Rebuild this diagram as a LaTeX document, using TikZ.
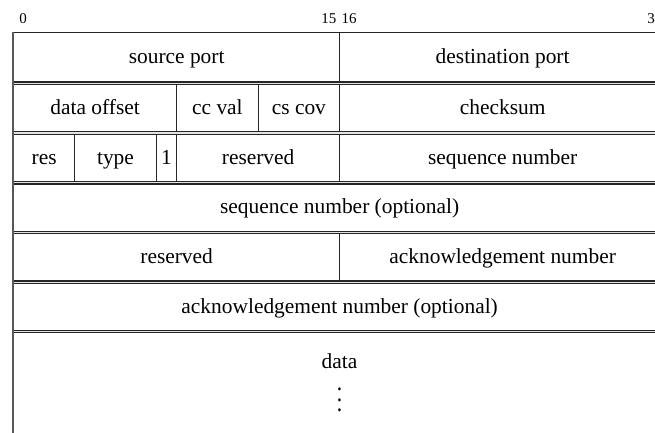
\documentclass[tikz,border=0pt]{standalone}
\usepackage{fontspec}
\setmainfont{Liberation Serif}

% one bit is 20.375 units wide, the bit field starts at x = 13; one unit is 0.467pt
\newcommand\bitx[1]{(13+20.375*(#1))}
% row k runs from \rowtop{k} to \rowbot{k}
\newcommand\rowtop[1]{(83.75+49.75*((#1)-1))}
\newcommand\rowbot[1]{(81.25+49.75*(#1))}
% \field{name}{first bit}{end bit}{top}{bottom}{text}
\newcommand\field[6]{%
  \pgfmathsetmacro\fldw{((#3)-(#2))*20.375*0.467}%
  \pgfmathsetmacro\fldh{((#5)-(#4))*0.467}%
  \node[fieldbox, anchor=north west, minimum width=\fldw pt,
        minimum height=\fldh pt] (#1) at ({\bitx{#2}},{#4}) {#6};}

\begin{document}
\begin{tikzpicture}[x=0.467pt, y=-0.467pt,
  fieldtext/.style={inner sep=0pt, font=\fontsize{10}{12}\selectfont},
  fieldbox/.style={fieldtext, draw=black!85, line width=0.6pt,
    text height=1.55ex, text depth=0.25ex},
  bitnum/.style={font=\fontsize{7}{8}\selectfont, inner sep=0pt, anchor=base},
  gap/.style={fill=gray!22},
  border/.style={draw=black!65, line width=0.85pt}]

\useasboundingbox (0,0) rectangle (655,432);
\clip (0,0) rectangle (655,432);

% bit numbers
\node[bitnum] (b0)  at ({\bitx{0.5}},23)  {0};
\node[bitnum] (b15) at ({\bitx{15.5}},23) {15};
\node[bitnum] (b16) at ({\bitx{16.5}},23) {16};
\node[bitnum] (b31) at ({\bitx{31.5}},23) {31};

% shaded gaps between consecutive rows
\foreach \k in {0,...,5}
  \fill[gap] (13,{\rowbot{\k}}) rectangle (670,{\rowtop{\k+1}});

% row 0
\field{srcport}{0}{16}{32}{\rowbot{0}}{source port}
\field{dstport}{16}{32}{32}{\rowbot{0}}{destination port}
% row 1
\field{doff}{0}{8}{\rowtop{1}}{\rowbot{1}}{data offset}
\field{ccval}{8}{12}{\rowtop{1}}{\rowbot{1}}{cc val}
\field{cscov}{12}{16}{\rowtop{1}}{\rowbot{1}}{cs cov}
\field{csum}{16}{32}{\rowtop{1}}{\rowbot{1}}{checksum}
% row 2
\field{res}{0}{3}{\rowtop{2}}{\rowbot{2}}{res}
\field{type}{3}{7}{\rowtop{2}}{\rowbot{2}}{type}
\field{xbit}{7}{8}{\rowtop{2}}{\rowbot{2}}{1}
\field{resa}{8}{16}{\rowtop{2}}{\rowbot{2}}{reserved}
\field{seq}{16}{32}{\rowtop{2}}{\rowbot{2}}{sequence number}
% row 3
\field{seqopt}{0}{32}{\rowtop{3}}{\rowbot{3}}{sequence number (optional)}
% row 4
\field{resb}{0}{16}{\rowtop{4}}{\rowbot{4}}{reserved}
\field{ack}{16}{32}{\rowtop{4}}{\rowbot{4}}{acknowledgement number}
% row 5
\field{ackopt}{0}{32}{\rowtop{5}}{\rowbot{5}}{acknowledgement number (optional)}

% data, open at the bottom
\pgfmathsetmacro\fldtop{\rowtop{6}}
\pgfmathsetmacro\fldw{32*20.375*0.467}
\pgfmathsetmacro\fldh{(432-\fldtop)*0.467}
\node[fieldtext, align=center, anchor=north west, minimum width=\fldw pt,
      minimum height=\fldh pt] (data) at ({\bitx{0}},\fldtop)
  {data\\[0.2ex]\scalebox{1}[1.2]{$\vdots$}};
\draw[black!85, line width=0.6pt]
  (data.south east) -- (data.north east) -- (data.north west);

% left border of the whole header
\draw[border] (srcport.north west) -- (data.south west);
\end{tikzpicture}
\end{document}
